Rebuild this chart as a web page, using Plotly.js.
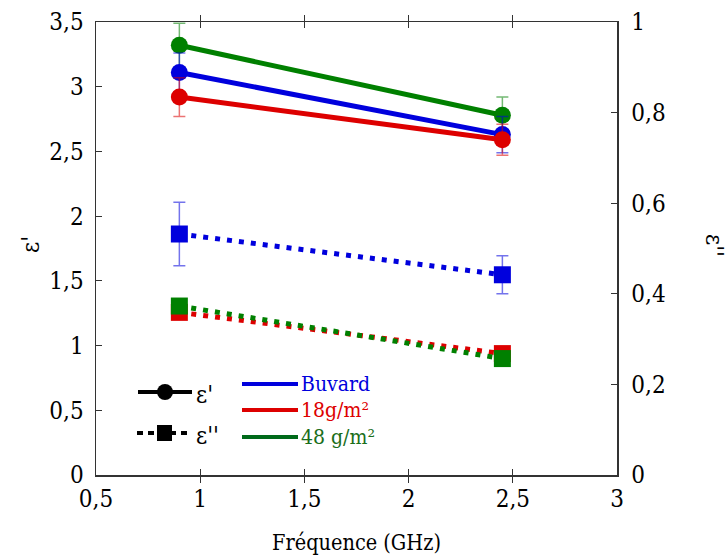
<!DOCTYPE html>
<html>
<head>
<meta charset="utf-8">
<script src="https://cdn.plot.ly/plotly-3.0.1.min.js"></script>
<style>html,body{margin:0;padding:0;background:#fff;}#chart{width:728px;height:556px;}</style>
</head>
<body>
<div id="chart"></div>
<script>
// Data
const freq = [0.9, 2.45];
const series = ['Buvard', '18g/m²', '48 g/m²'];
const colors = ['#0000dd', '#dd0000', '#008000'];
const epsReal = {
  'Buvard':  [3.11, 2.63],
  '18g/m²':  [2.92, 2.59],
  '48 g/m²': [3.32, 2.78]
};
const epsRealErr = {
  'Buvard':  [0.15, 0.14],
  '18g/m²':  [0.15, 0.12],
  '48 g/m²': [0.17, 0.14]
};
const epsImag = {
  'Buvard':  [0.532, 0.442],
  '18g/m²':  [0.359, 0.268],
  '48 g/m²': [0.373, 0.257]
};
const epsImagErr = {
  'Buvard':  [0.07, 0.042],
  '18g/m²':  [0.01, 0.01],
  '48 g/m²': [0.01, 0.01]
};
const xTicks = [0.5, 1, 1.5, 2, 2.5, 3];
const yTicks = [0, 0.5, 1, 1.5, 2, 2.5, 3, 3.5];
const y2Ticks = [0, 0.2, 0.4, 0.6, 0.8, 1];

function rgba(hex, a) {
  const r = parseInt(hex.slice(1,3),16), g = parseInt(hex.slice(3,5),16), b = parseInt(hex.slice(5,7),16);
  return `rgba(${r},${g},${b},${a})`;
}

const traces = [];
[0, 1, 2].forEach(i => {
  const s = series[i];
  traces.push({
    x: freq, y: epsImag[s], yaxis: 'y2', type: 'scatter', mode: 'lines+markers',
    line: {color: colors[i], width: 5, dash: '5px,7px'},
    marker: {symbol: 'square', size: 17, color: colors[i]},
    error_y: {type: 'data', array: epsImagErr[s], color: rgba(colors[i], 0.55), thickness: 1.5, width: 6},
    showlegend: false, cliponaxis: false
  });
});
[2, 0, 1].forEach(i => {
  const s = series[i];
  traces.push({
    x: freq, y: epsReal[s], type: 'scatter', mode: 'lines+markers',
    line: {color: colors[i], width: 5},
    marker: {symbol: 'circle', size: 17, color: colors[i]},
    error_y: {type: 'data', array: epsRealErr[s], color: rgba(colors[i], 0.55), thickness: 1.5, width: 6},
    showlegend: false, cliponaxis: false
  });
});

const FAM = 'DejaVu Serif Condensed';
const tickFont = {family: FAM, size: 24, color: '#000'};
const titleFont = {family: FAM, size: 21.5, color: '#000'};
const symFont = {family: FAM, size: 24, color: '#000'};
const legFont = {family: FAM, size: 21, color: '#000'};

const W = 728, H = 556, L = 96, R = 111, T = 22, B = 81;
const pw = W - L - R, ph = H - T - B;
const px = x => (x - L) / pw;
const py = y => (H - B - y) / ph;

const shapes = [
  {type:'line', xref:'paper', yref:'paper', x0:px(138), x1:px(192), y0:py(392), y1:py(392), line:{color:'#000', width:4}},
  {type:'circle', xref:'paper', yref:'paper', x0:px(157), x1:px(173), y0:py(384), y1:py(400), fillcolor:'#000', line:{color:'#000', width:0}},
  {type:'line', xref:'paper', yref:'paper', x0:px(137), x1:px(192), y0:py(433), y1:py(433), line:{color:'#000', width:4, dash:'6px,5px'}},
  {type:'rect', xref:'paper', yref:'paper', x0:px(157), x1:px(172), y0:py(425), y1:py(441), fillcolor:'#000', line:{color:'#000', width:0}},
  {type:'line', xref:'paper', yref:'paper', x0:px(242), x1:px(298), y0:py(384), y1:py(384), line:{color:colors[0], width:4}},
  {type:'line', xref:'paper', yref:'paper', x0:px(242), x1:px(298), y0:py(410), y1:py(410), line:{color:colors[1], width:4}},
  {type:'line', xref:'paper', yref:'paper', x0:px(242), x1:px(298), y0:py(437), y1:py(437), line:{color:'#006a1a', width:4}}
];

const legendTextColors = ['#0000dd', '#dd0000', '#1a6e1a'];
const annotations = [
  {xref:'paper', yref:'paper', x:px(194), y:py(395), text:"ε'", showarrow:false, xanchor:'left', yanchor:'middle', font:symFont},
  {xref:'paper', yref:'paper', x:px(194), y:py(436), text:"ε''", showarrow:false, xanchor:'left', yanchor:'middle', font:symFont},
  {xref:'paper', yref:'paper', x:px(299), y:py(384), text:series[0], showarrow:false, xanchor:'left', yanchor:'middle', font:Object.assign({}, legFont, {color:legendTextColors[0]})},
  {xref:'paper', yref:'paper', x:px(299), y:py(410), text:series[1], showarrow:false, xanchor:'left', yanchor:'middle', font:Object.assign({}, legFont, {color:legendTextColors[1]})},
  {xref:'paper', yref:'paper', x:px(299), y:py(437), text:series[2], showarrow:false, xanchor:'left', yanchor:'middle', font:Object.assign({}, legFont, {color:legendTextColors[2]})},
  {xref:'paper', yref:'paper', x:px(31), y:py(245), text:"ε'", showarrow:false, textangle:-90, xanchor:'center', yanchor:'middle', font:symFont},
  {xref:'paper', yref:'paper', x:px(714), y:py(245), text:"ε''", showarrow:false, textangle:90, xanchor:'center', yanchor:'middle', font:symFont}
];

const layout = {
  width: W, height: H,
  margin: {l: L, r: R, t: T, b: B, pad: 0},
  paper_bgcolor: '#fff', plot_bgcolor: '#fff',
  separators: ', ',
  font: tickFont,
  showlegend: false,
  xaxis: {
    range: [0.5, 3], tickvals: xTicks, ticks: 'inside', ticklen: 6, tickcolor: '#333',
    showline: true, linecolor: '#333', linewidth: 1.5, mirror: 'allticks', showgrid: false, zeroline: false,
    tickfont: tickFont, ticklabelstandoff: 2, title: {text: 'Fréquence (GHz)', font: titleFont, standoff: 22}
  },
  yaxis: {
    range: [0, 3.5], tickvals: yTicks, ticks: 'inside', ticklen: 6, tickcolor: '#333',
    showline: true, linecolor: '#333', linewidth: 1.5, showgrid: false, zeroline: false,
    tickfont: tickFont, ticklabelstandoff: 6
  },
  yaxis2: {
    range: [0, 1], tickvals: y2Ticks, overlaying: 'y', side: 'right', ticks: 'inside', ticklen: 6, tickcolor: '#333',
    showline: true, linecolor: '#333', linewidth: 1.5, showgrid: false, zeroline: false,
    tickfont: tickFont, ticklabelstandoff: 8
  },
  shapes: shapes,
  annotations: annotations
};

Plotly.newPlot('chart', traces, layout, {displayModeBar: false, staticPlot: true});
</script>
</body>
</html>
